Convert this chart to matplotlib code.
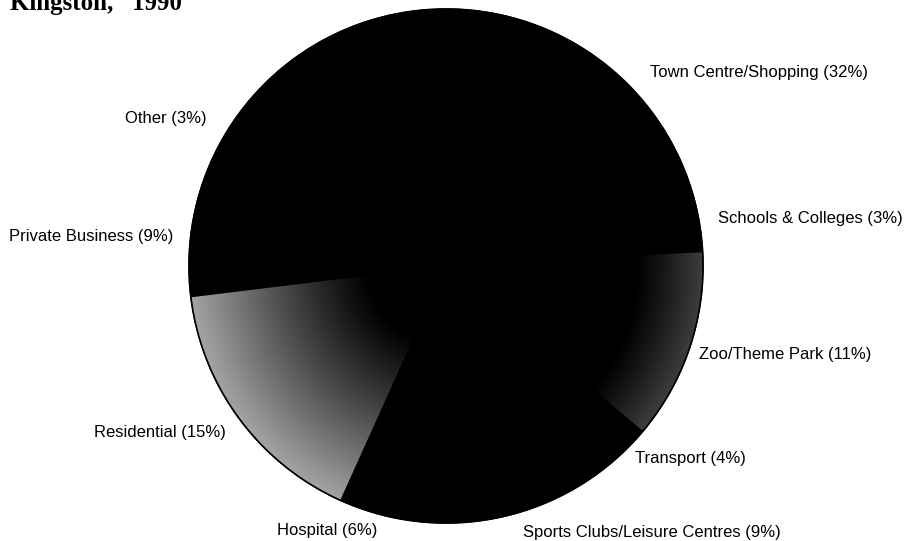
import numpy as np
import matplotlib.pyplot as plt
from matplotlib.patches import Circle

# --- DATA ---
# Slices listed counter-clockwise, starting from Residential on the left.
categories = ["Residential", "Hospital", "Sports Clubs/Leisure Centres",
              "Transport", "Zoo/Theme Park", "Schools & Colleges",
              "Town Centre/Shopping", "Other", "Private Business"]
shares = [15, 6, 9, 4, 11, 3, 32, 3, 9]

# --- LAYOUT (pixels, y measured from the top) ---
W, H = 911, 541
cx, cy, R = 446, H - 266, 257
label_pos = [(226, 433, "right"), (277, 530, "left"), (523, 532, "left"),
             (635, 459, "left"), (699, 355, "left"), (718, 218, "left"),
             (650, 72, "left"), (207, 119, "right"), (9, 236, "left")]
# shaded slices: index -> (grey at rim, radius where shading starts)
shading = {0: (0.64, 0.30), 4: (0.24, 0.74)}

fig = plt.figure(figsize=(W / 100, H / 100), dpi=100)
ax = fig.add_axes([0, 0, 1, 1])

# black edges hide the hairline seams between the black slices
wedges, _ = ax.pie(shares, startangle=187, counterclock=True,
                   center=(cx, cy), radius=R, colors=["black"] * len(shares),
                   wedgeprops=dict(linewidth=1, edgecolor="black"))

# radial grey ramp for the stippled slices
xx, yy = np.meshgrid(np.linspace(cx - R, cx + R, 400),
                     np.linspace(cy - R, cy + R, 400))
rr = np.hypot(xx - cx, yy - cy) / R
for i, (edge, r0) in shading.items():
    val = edge * np.clip((rr - r0) / (1 - r0), 0, 1) ** 1.1
    im = ax.imshow(val, extent=(cx - R, cx + R, cy - R, cy + R),
                   origin="lower", cmap="gray", vmin=0, vmax=1, zorder=2)
    im.set_clip_path(wedges[i])

ax.add_patch(Circle((cx, cy), R, fill=False, edgecolor="black",
                    linewidth=1.2, zorder=3))

for name, pct, (x, y, ha) in zip(categories, shares, label_pos):
    ax.text(x, H - y, name + " (" + str(pct) + "%)", ha=ha, va="center",
            fontsize=12, family="Liberation Sans", color="black")

# title is cropped at the top edge, as in the scan
fig.text(10 / W, 1 - 10 / H, "Kingston,   1990", ha="left", va="baseline",
         fontsize=18, fontweight="bold", family="Liberation Serif")

ax.set_xlim(0, W)
ax.set_ylim(0, H)
ax.axis("off")

fig.savefig("out.png", dpi=100)
